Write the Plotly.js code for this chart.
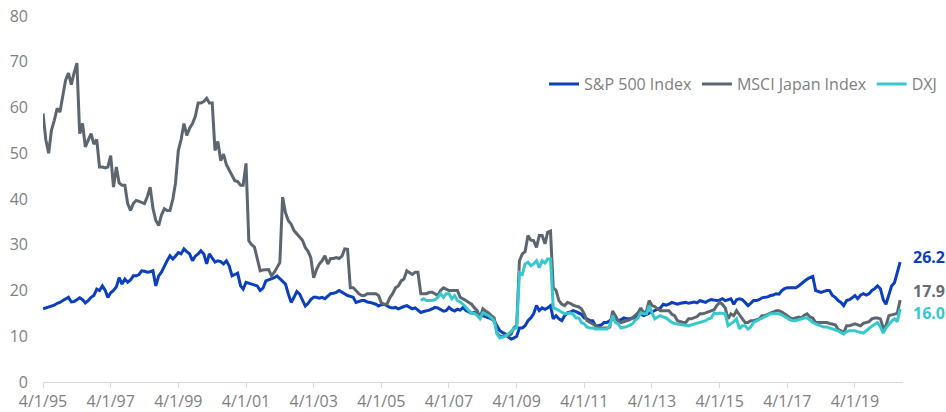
<!DOCTYPE html>
<html>
<head>
<meta charset="utf-8">
<script src="https://cdn.plot.ly/plotly-3.0.1.min.js"></script>
<style>
html, body { margin: 0; padding: 0; overflow: hidden; background: #fff; width: 946px; height: 412px; }
#chart { width: 1000px; height: 412px; }
</style>
</head>
<body>
<div id="chart"></div>
<script>
// Monthly P/E data (month-start dates)
const spStart = '1995-04';
const spValues = [
  16.0, 16.2, 16.5, 16.7, 16.8, 17.2, 17.4, 17.8, 18.2,
  18.5, 17.5, 17.6, 18.0, 18.4, 18.0, 17.3, 17.8, 18.5, 18.9, 20.3, 20.0,
  21.0, 20.0, 18.5, 19.5, 20.0, 20.8, 22.8, 21.4, 22.5, 21.8, 22.3, 23.2,
  23.2, 23.5, 24.3, 24.2, 24.0, 24.1, 24.3, 21.0, 23.2, 24.0, 25.4, 26.5,
  27.6, 26.9, 27.5, 28.3, 28.0, 29.1, 28.5, 28.0, 26.5, 27.5, 28.0, 28.7,
  28.0, 25.8, 28.0, 27.0, 26.2, 26.5, 26.3, 25.8, 26.5, 25.4, 23.2, 23.5,
  23.8, 21.0, 20.3, 21.8, 21.6, 21.4, 21.2, 21.0, 20.0, 20.5, 22.1, 22.3,
  22.5, 22.8, 23.2, 22.6, 22.1, 21.4, 19.3, 17.4, 18.5, 19.8, 19.2, 18.0,
  16.6, 17.2, 18.0, 18.5, 18.5, 18.3, 18.5, 18.2, 18.8, 19.3, 19.4, 19.6,
  20.0, 19.6, 19.3, 18.9, 18.7, 18.5, 17.4, 17.6, 17.8, 17.8, 17.5, 17.4,
  17.2, 17.0, 16.6, 16.9, 17.0, 16.7, 16.3, 16.2, 16.3, 16.0, 16.3, 16.5,
  16.7, 16.3, 16.0, 16.2, 15.8, 15.2, 15.4, 15.5, 15.7, 16.0, 16.3, 16.2,
  15.8, 15.5, 15.6, 16.3, 15.8, 15.5, 15.9, 15.7, 16.3, 15.6, 15.3, 15.0,
  15.2, 14.9, 14.5, 14.5, 14.3, 14.0, 13.8, 13.4, 12.3, 11.2, 10.8, 10.5,
  9.8, 9.4, 9.6, 10.0, 11.8, 11.8, 12.3, 13.4, 14.0, 14.9, 16.7, 15.6,
  16.2, 15.9, 16.2, 16.7, 13.8, 14.5, 13.8, 13.4, 14.5, 15.1, 15.3, 15.6,
  15.4, 15.1, 14.8, 14.0, 13.8, 13.4, 13.4, 12.3, 12.3, 12.5, 13.0, 13.0,
  13.4, 13.8, 13.8, 13.4, 13.6, 14.0, 13.8, 13.8, 14.0, 14.0, 15.1, 14.8,
  14.5, 14.8, 15.1, 15.3, 15.6, 15.9, 16.2, 17.0, 16.8, 17.0, 17.4, 17.2,
  17.0, 17.2, 17.3, 17.4, 17.2, 17.4, 17.5, 17.3, 17.8, 17.6, 17.4, 17.8,
  18.0, 17.9, 17.8, 17.9, 18.2, 17.8, 18.0, 18.2, 17.0, 18.0, 18.2, 18.0,
  17.4, 16.7, 17.2, 17.8, 17.8, 18.0, 18.4, 18.5, 18.6, 18.9, 19.0, 19.3,
  19.2, 20.0, 20.4, 20.6, 20.6, 20.6, 20.6, 21.0, 21.5, 22.1, 22.5, 22.8,
  23.1, 20.0, 19.8, 19.6, 19.8, 20.0, 20.0, 18.9, 18.5, 17.8, 17.4, 16.7,
  17.8, 18.0, 18.4, 18.9, 18.2, 19.0, 19.3, 19.0, 19.3, 20.0, 20.4, 21.0,
  20.4, 18.0, 17.0, 19.3, 21.0, 21.7, 23.9, 26.2
];

const msciStart = '1995-04';
const msciValues = [
  58.7, 53.0, 50.0, 55.0, 57.2, 59.8, 59.0, 62.5, 66.0,
  67.5, 65.0, 67.5, 69.7, 54.3, 56.5, 51.4, 53.0, 54.3, 52.0, 53.0, 47.0,
  47.0, 46.8, 47.0, 49.5, 42.6, 47.0, 43.5, 43.0, 43.0, 39.0, 37.5, 39.0,
  39.7, 39.5, 39.2, 39.0, 40.5, 42.6, 38.0, 35.3, 34.2, 36.5, 37.9, 37.5,
  37.5, 40.0, 43.4, 50.6, 53.0, 56.5, 53.9, 55.5, 56.5, 58.0, 61.0, 61.0,
  61.3, 62.0, 61.0, 61.0, 50.6, 52.6, 48.4, 49.8, 47.5, 46.3, 45.0, 44.0,
  43.8, 43.0, 43.0, 47.8, 30.9, 30.0, 29.5, 26.5, 24.3, 24.5, 24.6, 24.6,
  23.2, 24.0, 25.0, 26.1, 40.4, 37.0, 35.3, 34.5, 33.1, 32.4, 31.5, 31.0,
  29.4, 28.5, 27.2, 22.8, 24.5, 25.8, 26.5, 27.6, 25.8, 27.0, 27.0, 27.2,
  27.0, 27.5, 29.1, 29.0, 20.6, 20.6, 20.0, 19.3, 18.9, 18.9, 19.3, 19.3,
  19.3, 19.3, 18.9, 17.3, 17.0, 17.0, 18.4, 19.3, 20.6, 21.0, 22.1, 22.5,
  24.3, 23.8, 23.5, 24.0, 24.0, 19.3, 19.3, 19.3, 19.6, 19.6, 19.3, 18.9,
  20.0, 20.6, 20.3, 20.0, 20.0, 20.0, 20.0, 18.5, 18.2, 17.8, 17.4, 17.0,
  16.2, 15.6, 14.0, 16.0, 15.5, 15.1, 14.5, 14.0, 10.7, 10.0, 10.0, 10.3,
  10.0, 10.5, 11.8, 12.3, 26.5, 28.0, 28.5, 32.0, 31.0, 30.9, 29.4, 32.0,
  32.0, 30.2, 32.7, 33.0, 20.6, 20.0, 17.8, 17.0, 16.7, 17.4, 17.2, 16.8,
  16.6, 16.4, 16.0, 14.9, 13.4, 13.0, 12.7, 12.4, 12.0, 11.8, 11.8, 11.8,
  12.0, 15.5, 14.5, 13.4, 13.0, 13.2, 13.4, 13.6, 14.0, 14.6, 15.1, 16.2,
  15.1, 15.5, 17.8, 16.7, 16.5, 16.0, 15.6, 15.6, 15.6, 15.6, 14.8, 14.5,
  13.4, 13.2, 13.0, 13.0, 13.8, 13.8, 14.0, 14.3, 14.9, 14.9, 15.1, 15.3,
  15.6, 15.8, 16.7, 17.4, 17.0, 16.2, 13.8, 14.9, 14.5, 15.6, 14.7, 13.8,
  13.0, 13.0, 13.4, 13.4, 13.6, 13.8, 14.5, 14.5, 14.8, 15.0, 15.3, 15.6,
  15.6, 15.3, 15.0, 14.5, 14.0, 13.8, 14.0, 14.2, 14.0, 14.6, 14.9, 14.2,
  14.0, 13.0, 13.0, 13.0, 13.0, 13.0, 12.8, 12.7, 12.5, 11.5, 11.2, 10.7,
  12.3, 12.3, 12.5, 12.7, 12.5, 12.3, 12.8, 13.0, 13.2, 13.8, 14.0, 14.0,
  13.8, 11.8, 12.3, 14.5, 14.7, 14.8, 15.0, 17.9
];

const dxjStart = '2006-06';
const dxjValues = [
  17.8, 18.2, 17.8, 17.8, 17.8, 18.0, 18.5,
  19.3, 18.5, 19.3, 19.3, 18.2, 18.9, 17.8, 17.5, 17.0, 16.2, 15.6, 15.0,
  15.0, 14.5, 13.8, 15.1, 14.8, 14.5, 14.0, 13.4, 10.5, 9.6, 9.8, 10.0,
  10.5, 11.2, 11.6, 11.8, 23.9, 23.5, 25.8, 26.2, 25.4, 25.8, 26.5, 25.0,
  26.5, 26.0, 26.9, 26.9, 16.2, 16.0, 15.6, 15.2, 14.9, 15.0, 15.1, 14.8,
  14.0, 14.0, 13.0, 12.7, 12.0, 11.8, 11.8, 11.6, 11.6, 11.6, 11.6, 11.6,
  12.3, 14.5, 13.0, 12.7, 11.8, 11.9, 12.1, 12.4, 12.7, 13.5, 14.0, 15.1,
  14.9, 14.9, 16.7, 15.1, 13.8, 14.2, 14.5, 14.2, 14.0, 13.5, 13.0, 12.8,
  12.7, 12.6, 12.4, 12.3, 12.3, 12.5, 12.7, 12.8, 13.0, 13.2, 13.4, 13.8,
  14.0, 15.1, 14.9, 15.1, 15.0, 14.9, 12.3, 12.7, 13.2, 13.8, 11.6, 12.3,
  12.3, 11.6, 12.0, 13.0, 13.3, 13.6, 14.0, 14.3, 14.6, 14.9, 14.9, 14.9,
  14.9, 14.7, 14.3, 14.0, 13.6, 13.4, 13.4, 13.6, 13.8, 14.0, 14.0, 13.5,
  13.0, 12.7, 12.5, 12.3, 12.0, 12.0, 11.8, 11.6, 11.4, 11.2, 10.8, 10.5,
  11.0, 11.2, 11.2, 11.2, 11.0, 10.8, 10.7, 11.2, 11.8, 12.2, 12.6, 13.0,
  12.0, 10.7, 11.8, 12.7, 13.3, 13.8, 13.2, 16.0
];

const seriesNames = ['S&P 500 Index', 'MSCI Japan Index', 'DXJ'];
const seriesColors = ['#0b3fbd', '#5c6670', '#36c8cd'];
const labelColors = ['#0b3fbd', '#666d73', '#36c8cd'];
const endLabels = ['26.2', '17.9', '16.0'];

const tickVals = ['1995-04-01','1997-04-01','1999-04-01','2001-04-01','2003-04-01','2005-04-01',
                  '2007-04-01','2009-04-01','2011-04-01','2013-04-01','2015-04-01','2017-04-01','2019-04-01'];
const tickText = ['4/1/95','4/1/97','4/1/99','4/1/01','4/1/03','4/1/05',
                  '4/1/07','4/1/09','4/1/11','4/1/13','4/1/15','4/1/17','4/1/19'];

// month-start date strings for a series of n monthly observations
function monthDates(start, n) {
  let y = +start.slice(0, 4), m = +start.slice(5, 7);
  const out = [];
  for (let i = 0; i < n; i++) {
    out.push(y + '-' + String(m).padStart(2, '0') + '-01');
    m++; if (m > 12) { m = 1; y++; }
  }
  return out;
}

const spDates = monthDates(spStart, spValues.length);
const msciDates = monthDates(msciStart, msciValues.length);
const dxjDates = monthDates(dxjStart, dxjValues.length);

const xs = [spDates, msciDates, dxjDates];
const ys = [spValues, msciValues, dxjValues];

const traces = [];
for (let i = 0; i < 3; i++) {
  traces.push({
    type: 'scatter', mode: 'lines', name: seriesNames[i],
    x: xs[i], y: ys[i],
    line: { color: seriesColors[i], width: 3 },
    hoverinfo: 'skip'
  });
}

const yShifts = [5, 9, -4];
const annotations = [];
for (let i = 0; i < 3; i++) {
  const n = ys[i].length;
  annotations.push({
    x: xs[i][n - 1], y: ys[i][n - 1], xref: 'x', yref: 'y',
    text: '<b>' + endLabels[i] + '</b>', showarrow: false,
    xanchor: 'left', yanchor: 'middle', xshift: 11, yshift: yShifts[i],
    font: { family: 'Open Sans, sans-serif', size: 16, color: labelColors[i] }
  });
}

const layout = {
  width: 1000, height: 412,
  margin: { l: 43, r: 97, t: 16, b: 30, autoexpand: false },
  paper_bgcolor: '#ffffff', plot_bgcolor: '#ffffff',
  font: { family: 'Open Sans, sans-serif', size: 16, color: '#808080' },
  showlegend: true,
  legend: {
    orientation: 'h', xref: 'paper', yref: 'paper',
    x: 0.5826, y: 0.814, xanchor: 'left', yanchor: 'middle',
    font: { family: 'Open Sans, sans-serif', size: 16, color: '#808080' },
    bgcolor: 'rgba(0,0,0,0)', borderwidth: 0
  },
  xaxis: {
    type: 'date', range: ['1995-04-01', '2020-09-01'],
    tickmode: 'array', tickvals: tickVals, ticktext: tickText,
    showgrid: false, zeroline: false,
    showline: true, linecolor: '#d9d9d9', linewidth: 1,
    ticks: 'outside', ticklen: 5, tickcolor: '#d9d9d9', tickwidth: 1,
    tickfont: { size: 16, color: '#808080' }
  },
  yaxis: {
    range: [0, 80], dtick: 10, tick0: 0,
    showgrid: false, zeroline: false, showline: false, ticks: '',
    ticklabelstandoff: 14,
    tickfont: { size: 16, color: '#808080' }
  },
  annotations: annotations
};

Plotly.newPlot('chart', traces, layout, { staticPlot: true, displayModeBar: false });
</script>
</body>
</html>
